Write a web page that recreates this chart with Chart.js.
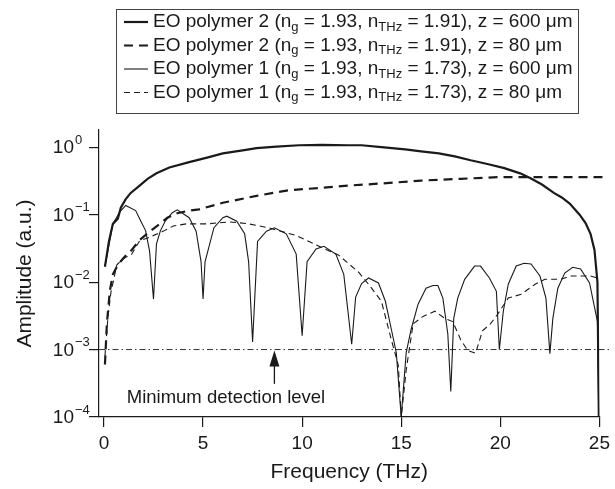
<!DOCTYPE html>
<html>
<head>
<meta charset="utf-8">
<script src="https://cdn.jsdelivr.net/npm/chart.js@4"></script>
<style>
  html, body { margin: 0; padding: 0; background: #fff; }
</style>
</head>
<body>
<canvas id="chart" width="615" height="489"></canvas>
<script>
// EO polymer 2, z = 600 um (thick solid)
const freqP2Long = [0.05, 0.25, 0.45, 0.7, 0.85, 1.1, 1.35, 1.8, 2.2, 2.65, 3.3, 4.3, 5.2, 6.0, 7.0, 7.7, 8.7, 9.85, 11, 12.35, 13.0, 14.0, 15.2, 16.0, 16.9, 17.7, 18.5, 19.4, 20.2, 21.0, 21.5, 22.1, 22.7, 23.1, 23.5, 24.0, 24.3, 24.55, 24.75, 24.9, 24.97];
const ampP2Long = [0.017, 0.04, 0.073, 0.087, 0.127, 0.17, 0.21, 0.27, 0.34, 0.41, 0.5, 0.6, 0.7, 0.81, 0.9, 0.97, 1.02, 1.07, 1.08, 1.07, 1.07, 1.0, 0.93, 0.87, 0.81, 0.73, 0.64, 0.56, 0.49, 0.41, 0.35, 0.28, 0.21, 0.18, 0.146, 0.1, 0.075, 0.052, 0.03, 0.01, 0.0001];

// EO polymer 2, z = 80 um (thick dashed)
const freqP2Short = [0.05, 0.15, 0.3, 0.45, 0.7, 1.0, 1.4, 1.8, 2.3, 2.8, 3.2, 3.7, 4.3, 4.8, 6.0, 7.7, 9.3, 11.0, 12.35, 14.0, 16.0, 18.0, 19.9, 22.0, 25.3];
const ampP2Short = [0.0006, 0.0025, 0.0075, 0.013, 0.018, 0.023, 0.03, 0.042, 0.056, 0.072, 0.09, 0.105, 0.115, 0.12, 0.15, 0.19, 0.23, 0.25, 0.27, 0.29, 0.32, 0.34, 0.36, 0.36, 0.36];

// EO polymer 1, z = 600 um (thin solid)
const freqP1Long = [0.05, 0.45, 0.8, 1.1, 1.6, 1.85, 2.1, 2.3, 2.5, 2.65, 2.85, 3.1, 3.45, 3.7, 4.3, 4.65, 4.9, 5.0, 5.1, 5.55, 6.0, 6.2, 6.7, 7.1, 7.3, 7.5, 7.75, 8.2, 8.6, 9.2, 9.7, 10.0, 10.25, 10.7, 11.1, 11.7, 12.1, 12.5, 12.7, 13.0, 13.35, 13.85, 14.2, 14.5, 14.75, 15.0, 15.25, 15.5, 15.85, 16.25, 16.6, 16.85, 17.1, 17.35, 17.5, 17.65, 17.85, 18.2, 18.7, 19.0, 19.45, 19.8, 19.95, 20.15, 20.4, 20.8, 21.2, 21.55, 22.0, 22.3, 22.5, 22.65, 22.9, 23.25, 23.65, 24.05, 24.5, 24.9, 24.97];
const ampP1Long = [0.017, 0.073, 0.11, 0.137, 0.115, 0.081, 0.058, 0.029, 0.0056, 0.037, 0.058, 0.081, 0.107, 0.118, 0.09, 0.057, 0.02, 0.0056, 0.02, 0.064, 0.09, 0.095, 0.08, 0.052, 0.02, 0.0013, 0.04, 0.057, 0.064, 0.052, 0.026, 0.0016, 0.02, 0.031, 0.034, 0.026, 0.013, 0.0012, 0.006, 0.0095, 0.0115, 0.0097, 0.0052, 0.002, 0.0009, 0.0001, 0.0009, 0.002, 0.0047, 0.0081, 0.0089, 0.0089, 0.0058, 0.0017, 0.00024, 0.0029, 0.0058, 0.011, 0.0173, 0.0173, 0.0115, 0.0073, 0.001, 0.0037, 0.0093, 0.0173, 0.019, 0.0186, 0.0123, 0.0058, 0.00087, 0.0029, 0.0081, 0.0136, 0.0166, 0.0157, 0.0097, 0.0026, 0.0001];

// EO polymer 1, z = 80 um (thin dashed)
const freqP1Short = [0.05, 0.2, 0.35, 0.65, 0.95, 1.4, 1.8, 2.2, 3.0, 3.5, 4.15, 5.2, 6.3, 7.2, 8.3, 9.7, 10.85, 11.85, 12.85, 13.35, 14.0, 14.5, 14.85, 15.0, 15.25, 15.6, 16.1, 16.7, 17.2, 17.6, 18.0, 18.35, 18.75, 19.1, 19.5, 19.85, 20.4, 21.05, 21.75, 22.25, 23.05, 23.55, 24.55, 24.9, 25.0];
const ampP1Short = [0.0008, 0.003, 0.007, 0.018, 0.022, 0.026, 0.041, 0.045, 0.057, 0.068, 0.073, 0.073, 0.078, 0.074, 0.064, 0.049, 0.034, 0.025, 0.014, 0.0093, 0.0052, 0.0014, 0.00059, 0.0001, 0.0005, 0.0024, 0.0031, 0.0037, 0.0029, 0.0026, 0.0014, 0.00097, 0.00088, 0.0019, 0.0024, 0.0033, 0.0058, 0.0066, 0.0093, 0.011, 0.011, 0.0123, 0.0123, 0.0115, 0.011];

// legend text parts
const polymers = ['EO polymer 2', 'EO polymer 2', 'EO polymer 1', 'EO polymer 1'];
const nGroup = [1.93, 1.93, 1.93, 1.93];
const nTHz = [1.91, 1.91, 1.73, 1.73];
const depths = [600, 80, 600, 80];

// axes and annotation
const xTicks = [0, 5, 10, 15, 20, 25];
const yTicks = [1e-4, 1e-3, 1e-2, 1e-1, 1];
const minDetect = 1e-3;
const minDetectRange = [-0.25, 25.5];
const arrowFreq = 8.6;
const arrowTailAmp = 3.1e-4;
const noteFreq = 1.15;
const noteAmp = 1.9e-4;

const FONT = '"Liberation Sans", Arial, Helvetica, sans-serif';
const INK = '#1a1a1a';

const pts = (xs, ys) => xs.map((x, i) => ({ x: x, y: ys[i] }));

const styles = [
  { borderWidth: 2.2, borderDash: [] },
  { borderWidth: 2.2, borderDash: [9, 6] },
  { borderWidth: 1.1, borderDash: [] },
  { borderWidth: 1.1, borderDash: [6, 4] }
];
const series = [
  pts(freqP2Long, ampP2Long),
  pts(freqP2Short, ampP2Short),
  pts(freqP1Long, ampP1Long),
  pts(freqP1Short, ampP1Short)
];

const datasets = series.map((data, i) => ({
  data: data,
  borderColor: INK,
  borderWidth: styles[i].borderWidth,
  borderDash: styles[i].borderDash,
  pointRadius: 0,
  tension: 0,
  fill: false,
  clip: i === 1 ? false : undefined
}));
datasets.push({
  data: minDetectRange.map(x => ({ x: x, y: minDetect })),
  borderColor: '#333',
  borderWidth: 1,
  borderDash: [6, 3, 1.5, 3],
  pointRadius: 0,
  clip: false
});

function drawRich(ctx, parts, x, y) {
  ctx.textAlign = 'left';
  ctx.textBaseline = 'middle';
  parts.forEach(p => {
    ctx.font = p.sub ? `13px ${FONT}` : `19px ${FONT}`;
    ctx.fillText(p.t, x, p.sub ? y + 5 : y);
    x += ctx.measureText(p.t).width;
  });
}

const decor = {
  id: 'decor',
  afterDraw(chart) {
    const { ctx } = chart;
    const x = chart.scales.x, y = chart.scales.y;
    ctx.save();
    ctx.fillStyle = INK;

    // y tick labels as 10^n
    yTicks.forEach(v => {
      const py = y.getPixelForValue(v);
      const e = Math.round(Math.log10(v));
      ctx.font = `19px ${FONT}`;
      ctx.textAlign = 'right';
      ctx.textBaseline = 'middle';
      ctx.fillText('10', 74, py + 1);
      ctx.font = `13px ${FONT}`;
      ctx.textAlign = 'left';
      ctx.fillText(e === 0 ? '0' : '\u2212' + Math.abs(e), 75, py - 7);
    });

    // axis titles
    ctx.font = `21px ${FONT}`;
    ctx.textAlign = 'center';
    ctx.textBaseline = 'middle';
    ctx.fillText('Frequency (THz)', (x.left + x.right) / 2, 472);
    ctx.save();
    ctx.translate(25, (y.top + y.bottom) / 2);
    ctx.rotate(-Math.PI / 2);
    ctx.fillText('Amplitude (a.u.)', 0, 0);
    ctx.restore();

    // annotation
    ctx.font = `18.5px ${FONT}`;
    ctx.textAlign = 'left';
    ctx.fillText('Minimum detection level', x.getPixelForValue(noteFreq), y.getPixelForValue(noteAmp));
    const ax = x.getPixelForValue(arrowFreq);
    const tip = y.getPixelForValue(minDetect);
    const tail = y.getPixelForValue(arrowTailAmp);
    ctx.strokeStyle = INK;
    ctx.lineWidth = 1.3;
    ctx.beginPath();
    ctx.moveTo(ax, tail);
    ctx.lineTo(ax, tip + 12);
    ctx.stroke();
    ctx.beginPath();
    ctx.moveTo(ax, tip + 1);
    ctx.lineTo(ax - 5, tip + 17);
    ctx.lineTo(ax + 5, tip + 17);
    ctx.closePath();
    ctx.fill();

    // legend
    ctx.strokeStyle = '#444';
    ctx.lineWidth = 1;
    ctx.setLineDash([]);
    ctx.strokeRect(116.5, 9.5, 462, 104);
    polymers.forEach((name, i) => {
      const ry = 22 + i * 23.5;
      ctx.strokeStyle = INK;
      ctx.lineWidth = styles[i].borderWidth;
      ctx.setLineDash(styles[i].borderDash);
      ctx.beginPath();
      ctx.moveTo(124, ry);
      ctx.lineTo(148, ry);
      ctx.stroke();
      ctx.setLineDash([]);
      drawRich(ctx, [
        { t: name + ' (n' },
        { t: 'g', sub: true },
        { t: ' = ' + nGroup[i].toFixed(2) + ', n' },
        { t: 'THz', sub: true },
        { t: ' = ' + nTHz[i].toFixed(2) + '), z = ' + depths[i] + ' \u03bcm' }
      ], 153, ry);
    });
    ctx.restore();
  }
};

new Chart(document.getElementById('chart'), {
  type: 'line',
  data: { datasets: datasets },
  options: {
    responsive: false,
    animation: false,
    devicePixelRatio: 1,
    layout: { padding: { top: 130, right: 13, bottom: 0, left: 0 } },
    plugins: { legend: { display: false }, tooltip: { enabled: false } },
    scales: {
      x: {
        type: 'linear',
        min: -0.25,
        max: 25,
        afterBuildTicks: s => { s.ticks = xTicks.map(v => ({ value: v })); },
        afterFit: s => { s.height = 72; },
        ticks: {
          font: { family: FONT, size: 19 },
          color: INK,
          padding: 5,
          maxRotation: 0
        },
        grid: { drawOnChartArea: false, tickLength: 10, color: INK, lineWidth: 1.2 },
        border: { color: INK, width: 1.2 }
      },
      y: {
        type: 'logarithmic',
        min: 1e-4,
        max: 1.8,
        afterBuildTicks: s => { s.ticks = yTicks.map(v => ({ value: v })); },
        afterFit: s => { s.width = 99; },
        ticks: { callback: () => '' },
        grid: { drawOnChartArea: false, tickLength: 10, color: INK, lineWidth: 1.2 },
        border: { color: INK, width: 1.2 }
      }
    }
  },
  plugins: [decor]
});
</script>
</body>
</html>
